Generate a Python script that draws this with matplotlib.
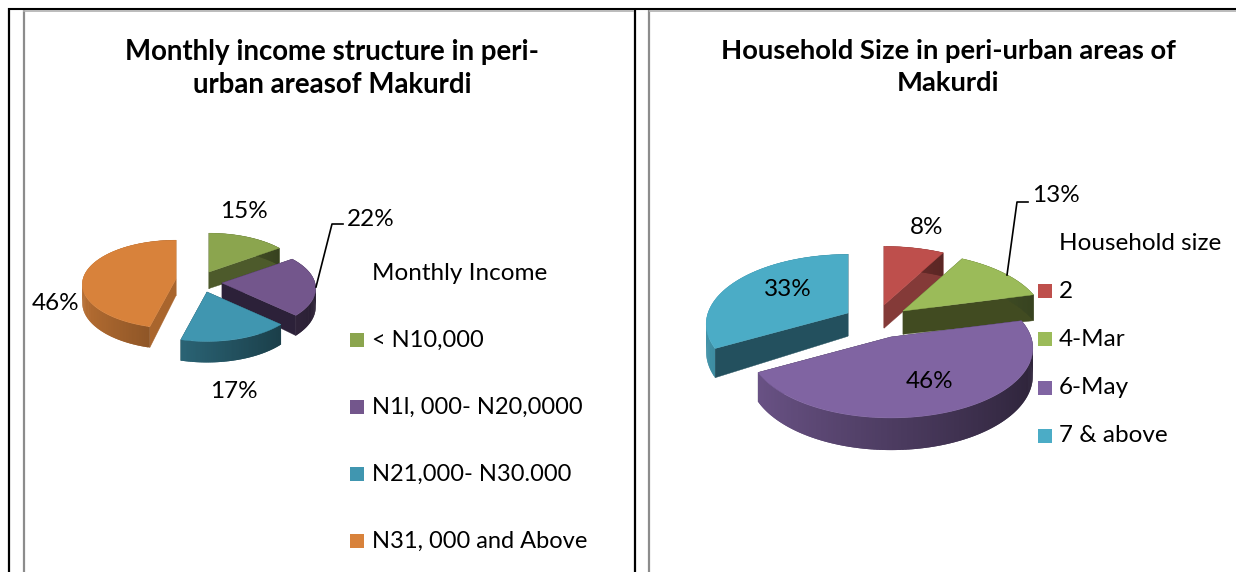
#!/usr/bin/env python3
"""
Two exploded pseudo-3D pie charts side by side, inside a table frame.
matplotlib has no perspective pie, so the wedges are built from polygons.
"""

import matplotlib
matplotlib.use("Agg")
import matplotlib.pyplot as plt
from matplotlib.colors import to_rgb
from matplotlib.patches import Polygon, Rectangle
import numpy as np

# data
income_title = "Monthly income structure in peri-\nurban areasof Makurdi"
income_legend_title = "Monthly Income"
income_labels = ["< N10,000", "N1l, 000- N20,0000", "N21,000- N30.000", "N31, 000 and Above"]
income_values = [15, 22, 17, 46]

household_title = "Household Size in peri-urban areas of\nMakurdi"
household_legend_title = "Household size"
household_labels = ["2", "4-Mar", "6-May", "7 & above"]
household_values = [8, 13, 46, 33]

# styles
income_colors = ["#8ba54e", "#73568c", "#4096b0", "#d8823b"]
income_faces = ["#4d5a2b", "#2c2139", "#1b4350", "#a9652d"]
household_colors = ["#be4f4c", "#9bbb59", "#8064a2", "#4bacc6"]
household_faces = ["#843a38", "#414b21", "#2f2540", "#23505e"]

plt.rcParams["font.family"] = ["Lato", "DejaVu Sans"]

fig = plt.figure(figsize=(12.36, 5.72), dpi=100)
ax = fig.add_axes([0, 0, 1, 1])
ax.set_xlim(0, 1236)
ax.set_ylim(572, 0)
ax.axis("off")


def rim(t, rx, ry, persp):
    # point on the wedge rim at angle t (clockwise from 12 o'clock), with perspective
    s = 1 / (1 + persp * np.cos(t))
    return rx * np.sin(t) * s, -ry * np.cos(t) * s, s


def draw_pie(values, colors, faces, center, offsets, order, rx, ry, persp, depth):
    edges = np.radians(np.cumsum([0] + list(values)) * 3.6)
    for z, i in enumerate(order):
        z = 2 + z
        x0 = center[0] + offsets[i][0]
        y0 = center[1] + offsets[i][1]
        t = np.linspace(edges[i], edges[i + 1], int(np.degrees(edges[i + 1] - edges[i])) + 2)
        dx, dy, s = rim(t, rx, ry, persp)
        xs, ys = x0 + dx, y0 + dy
        d0 = depth * (1 / (1 + persp))
        d = depth * s

        # cut faces
        for k in (0, -1):
            quad = [(x0, y0), (xs[k], ys[k]), (xs[k], ys[k] + d[k]), (x0, y0 + d0)]
            ax.add_patch(Polygon(quad, closed=True, fc=faces[i], ec=faces[i], lw=0.3, zorder=z))

        # outer wall, lighter on the left and darker on the right
        # each strip runs on under the next one so no seams show
        base = np.array(to_rgb(colors[i]))
        for j in range(len(t) - 1):
            e = min(j + 2, len(t) - 1)
            shade = 0.6 - 0.25 * np.sin((t[j] + t[j + 1]) / 2)
            c = tuple(base * shade)
            quad = [(xs[j], ys[j]), (xs[e], ys[e]), (xs[e], ys[e] + d[e]), (xs[j], ys[j] + d[j])]
            ax.add_patch(Polygon(quad, closed=True, fc=c, ec="none", zorder=z))

        # top
        top = [(x0, y0)] + list(zip(xs, ys))
        ax.add_patch(Polygon(top, closed=True, fc=colors[i], ec=colors[i], lw=0.3, zorder=z + 0.5))


def draw_legend(title, labels, colors, sq_x, text_x, title_y, rows, size):
    ax.text(text_x, title_y, title, fontsize=17.5, va="center", ha="left", zorder=20)
    for lab, col, y in zip(labels, colors, rows):
        ax.add_patch(Rectangle((sq_x, y - 7), 14, 14, fc=col, ec="none", zorder=20))
        ax.text(text_x, y, lab, fontsize=size, va="center", ha="left", zorder=20)


# table frame
ax.plot([8, 1236], [8.5, 8.5], color="black", lw=1.5, zorder=1, solid_capstyle="butt")
ax.plot([9, 9], [8, 572], color="black", lw=1.6, zorder=1, solid_capstyle="butt")
ax.plot([635, 635], [8, 572], color="black", lw=1.6, zorder=1, solid_capstyle="butt")
ax.plot([23.5, 23.5], [10, 572], color="#8c8c8c", lw=1.6, zorder=1, solid_capstyle="butt")
ax.plot([649, 649], [10, 572], color="#8c8c8c", lw=1.6, zorder=1, solid_capstyle="butt")
ax.plot([23, 634], [10.5, 10.5], color="#b0b0b0", lw=1.2, zorder=1, solid_capstyle="butt")
ax.plot([649, 1236], [10.5, 10.5], color="#b0b0b0", lw=1.2, zorder=1, solid_capstyle="butt")

# titles
ax.text(332, 68.5, income_title, fontsize=19.9, fontweight="bold", ha="center", va="center",
        linespacing=1.38)
ax.text(948, 67, household_title, fontsize=19.7, fontweight="bold", ha="center", va="center",
        linespacing=1.38)

# pies
draw_pie(income_values, income_colors, income_faces, (201, 283),
         [(8, -11), (21, 0), (6, 9), (-25, -4)], [3, 0, 1, 2],
         rx=93, ry=43.5, persp=0.12, depth=18.5)
draw_pie(household_values, household_colors, household_faces, (893, 338),
         [(-9, -33), (10, -27), (-2, -1), (-45, -25)], [3, 0, 1, 2],
         rx=140, ry=68, persp=0.16, depth=27)

# leader lines
ax.plot([316, 332, 343], [287, 224, 224], color="black", lw=1.2, zorder=15)
ax.plot([1007, 1017, 1028], [275, 202, 202], color="black", lw=1.2, zorder=15)

# value labels
income_pos = [(244, 212), (371, 219), (234, 392), (56, 303)]
household_pos = [(927, 227), (1056, 196), (930, 382), (788, 290)]
for v, (x, y) in zip(income_values, income_pos):
    ax.text(x, y, f"{v}%", fontsize=17.5, ha="center", va="center", zorder=20)
for v, (x, y) in zip(household_values, household_pos):
    ax.text(x, y, f"{v}%", fontsize=17.5, ha="center", va="center", zorder=20)

# legends
draw_legend(income_legend_title, income_labels, income_colors, 350, 372, 273,
            [340, 407, 474, 541], 17)
draw_legend(household_legend_title, household_labels, household_colors, 1038, 1059, 243,
            [291, 339, 388, 436], 17.5)

fig.savefig("out.png", dpi=100, facecolor="white")
